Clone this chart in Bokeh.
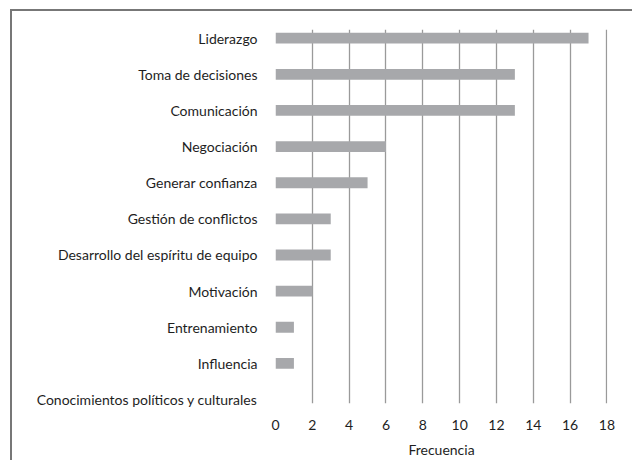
from bokeh.plotting import figure
from bokeh.models import FixedTicker, Range1d
from bokeh.embed import file_html
from bokeh.resources import INLINE

categories = [
    "Liderazgo",
    "Toma de decisiones",
    "Comunicación",
    "Negociación",
    "Generar confianza",
    "Gestión de conflictos",
    "Desarrollo del espíritu de equipo",
    "Motivación",
    "Entrenamiento",
    "Influencia",
    "Conocimientos políticos y culturales",
]
frecuencia = [17, 13, 13, 6, 5, 3, 3, 2, 1, 1, 0]
x_ticks = [0, 2, 4, 6, 8, 10, 12, 14, 16, 18]

n = len(categories)
y_pos = [n - 1 - i for i in range(n)]

FONT = "Lato"
TXT = "#1e1e1e"
EDGE = "#777777"

p = figure(
    width=632, height=460,
    x_range=Range1d(0, 18.03),
    y_range=Range1d(-0.11, n - 1 + 0.24),
    output_backend="svg", toolbar_location=None,
    min_border_left=275, min_border_right=25, min_border_top=29, min_border_bottom=57,
)
p.outline_line_color = None
p.background_fill_color = None
p.border_fill_color = None
# thin chart-area border on the top and left (right/bottom edges lie outside the picture)
p.styles = {
    "background-color": "white",
    "background-image": f"linear-gradient({EDGE},{EDGE}), linear-gradient({EDGE},{EDGE})",
    "background-size": "100% 2px, 2px 100%",
    "background-position": "10px 9px, 10px 9px",
    "background-repeat": "no-repeat",
}

p.hbar(y=y_pos, right=frecuencia, left=0, height=0.3, color="#a7a8ab", line_color=None)

p.xaxis.ticker = FixedTicker(ticks=x_ticks)
p.xaxis.axis_line_color = None
p.xaxis.major_tick_line_color = None
p.xaxis.minor_tick_line_color = None
p.xaxis.major_tick_out = 0
p.xaxis.major_label_standoff = 16
p.xaxis.major_label_text_font = FONT
p.xaxis.major_label_text_font_size = "14px"
p.xaxis.major_label_text_color = TXT
p.xaxis.axis_label = "Frecuencia"
p.xaxis.axis_label_text_font = FONT
p.xaxis.axis_label_text_font_size = "14px"
p.xaxis.axis_label_text_font_style = "normal"
p.xaxis.axis_label_text_color = TXT
p.xaxis.axis_label_standoff = 8

p.yaxis.ticker = FixedTicker(ticks=y_pos)
p.yaxis.major_label_overrides = {y: c for y, c in zip(y_pos, categories)}
p.yaxis.axis_line_color = None
p.yaxis.major_tick_line_color = None
p.yaxis.minor_tick_line_color = None
p.yaxis.major_tick_out = 0
p.yaxis.major_label_standoff = 18
p.yaxis.major_label_text_font = FONT
p.yaxis.major_label_text_font_size = "14px"
p.yaxis.major_label_text_color = TXT

p.ygrid.grid_line_color = None
p.xgrid.grid_line_color = "#9a9a9a"
p.xgrid.grid_line_width = 1.3

open("out.html", "w").write(file_html(p, INLINE))
